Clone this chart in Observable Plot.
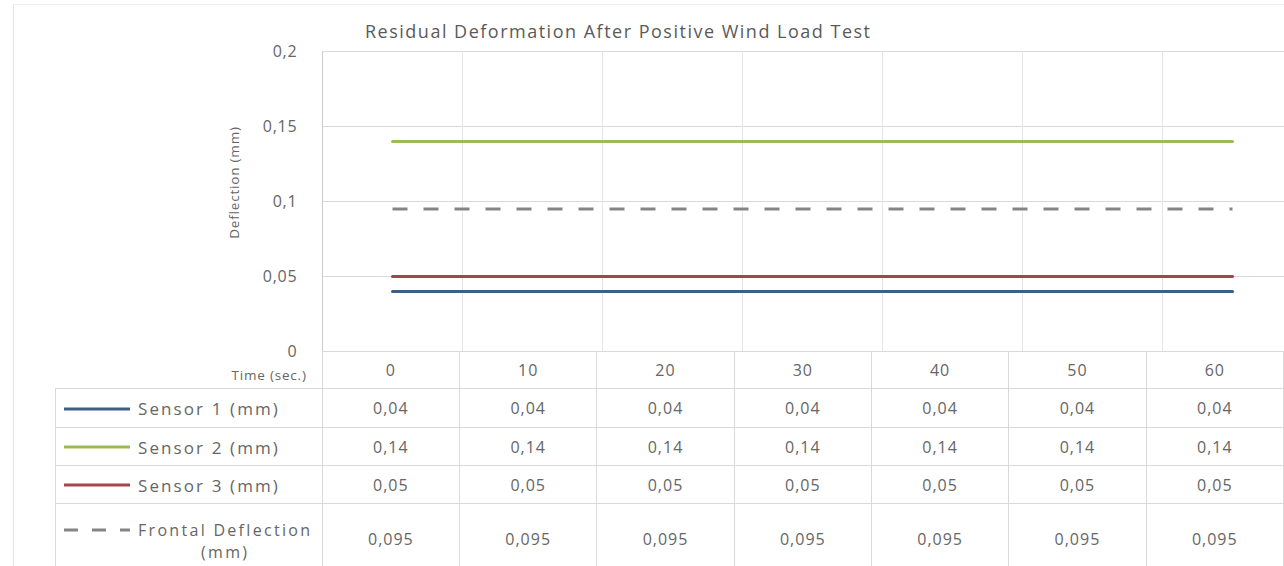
<!DOCTYPE html>
<html><head><meta charset="utf-8">
<script src="https://cdn.jsdelivr.net/npm/d3@7"></script>
<script src="https://cdn.jsdelivr.net/npm/@observablehq/plot@0.6"></script>
<style>
html,body{margin:0;padding:0;background:#fff;}
#wrap{position:relative;width:1284px;height:566px;overflow:hidden;font-family:"Open Sans",sans-serif;color:#666;}
#frameL{position:absolute;left:13px;top:4px;width:0;height:562px;border-left:1px solid #e6e6e6;}
#frameT{position:absolute;left:13px;top:4px;width:1271px;height:0;border-top:1px solid #eeeeee;}
#title{position:absolute;left:365px;top:19px;font-size:18px;letter-spacing:1.5px;white-space:nowrap;color:#5a5a5a;}
#chart{position:absolute;left:0;top:0;width:1302px;}
#chart svg{max-width:none !important;}
#chart text{letter-spacing:0.8px;}
#tbl{position:absolute;left:55px;top:351px;border-collapse:collapse;table-layout:fixed;}
#tbl td{border:1px solid #d9d9d9;text-align:center;vertical-align:middle;font-size:16px;color:#666;padding:0;letter-spacing:1px;white-space:nowrap;}
#tbl td.hdr0{border-top:none;border-left:none;text-align:right;vertical-align:bottom;font-size:13.5px;padding-right:15px;padding-bottom:4px;letter-spacing:0.8px;}
#tbl td.leg{text-align:left;padding-left:8px;font-size:17px;letter-spacing:2.1px;}
.sw{display:inline-block;vertical-align:middle;margin-right:8px;}
.lbl{display:inline-block;vertical-align:middle;text-align:center;}
.lbl.two{font-size:16px;letter-spacing:2.3px;padding-top:4px;}
.lbl.two div{height:22px;line-height:22px;}
</style>
</head><body>
<div id="wrap">
  <div id="frameL"></div><div id="frameT"></div>
  <div id="chart"></div>
  <div id="title"></div>
  <table id="tbl"></table>
</div>
<script>
// ---- data ----
const times = [0, 10, 20, 30, 40, 50, 60];
const sensor1 = [0.04, 0.04, 0.04, 0.04, 0.04, 0.04, 0.04];
const sensor2 = [0.14, 0.14, 0.14, 0.14, 0.14, 0.14, 0.14];
const sensor3 = [0.05, 0.05, 0.05, 0.05, 0.05, 0.05, 0.05];
const frontal = [0.095, 0.095, 0.095, 0.095, 0.095, 0.095, 0.095];
const seriesNames = ["Sensor 1 (mm)", "Sensor 2 (mm)", "Sensor 3 (mm)", "Frontal Deflection (mm)"];
const seriesLabelLines = [["Sensor 1 (mm)"], ["Sensor 2 (mm)"], ["Sensor 3 (mm)"], ["Frontal Deflection", "(mm)"]];
const seriesColors = ["#3d5f86", "#9bbb59", "#a3454b", "#858585"];
const yTicks = [0, 0.05, 0.1, 0.15, 0.2];
const titleText = "Residual Deformation After Positive Wind Load Test";
const yLabel = "Deflection (mm)";
const xLabel = "Time (sec.)";

const comma = d => String(d).replace(".", ",");
const seriesValues = [sensor1, sensor2, sensor3, frontal];
const long = [];
seriesValues.forEach((vals, s) => times.forEach((t, i) => long.push({series: seriesNames[s], time: t, value: vals[i]})));
const solid = long.filter(d => d.series !== seriesNames[3]);
const dashed = long.filter(d => d.series === seriesNames[3]);
const step = times[1] - times[0];
const bounds = times.map(t => t + step / 2);

const chart = Plot.plot({
  width: 1302, height: 366,
  marginLeft: 322, marginRight: 0, marginTop: 51, marginBottom: 15,
  x: {domain: [times[0] - step / 2, times[times.length - 1] + step / 2], axis: null},
  y: {domain: [yTicks[0], yTicks[yTicks.length - 1]], axis: null},
  color: {domain: seriesNames, range: seriesColors},
  style: {fontFamily: "Open Sans", overflow: "visible", background: "transparent", maxWidth: "none"},
  marks: [
    Plot.ruleY(yTicks.slice(1), {stroke: "#d9d9d9"}),
    Plot.ruleX(bounds, {stroke: "#e6e6e6"}),
    Plot.ruleX([times[0] - step / 2], {stroke: "#cccccc"}),
    Plot.axisY({ticks: yTicks, tickSize: 0, tickPadding: 25, tickFormat: comma, fontSize: 16, color: "#666", label: null}),
    Plot.text([yLabel], {frameAnchor: "left", textAnchor: "middle", dx: -88, dy: -19, rotate: -90, fontSize: 13.5, fill: "#666"}),
    Plot.line(solid, {x: "time", y: "value", z: "series", stroke: "series", strokeWidth: 3}),
    Plot.line(dashed, {x: "time", y: "value", stroke: "series", strokeWidth: 3, strokeDasharray: "15,16", strokeLinecap: "butt"})
  ]
});
document.getElementById("chart").appendChild(chart);
document.getElementById("title").textContent = titleText;

// ---- data table ----
const tbl = document.getElementById("tbl");
const colg = document.createElement("colgroup");
[267, ...times.map(() => 140)].forEach(w => { const c = document.createElement("col"); c.style.width = w + "px"; colg.appendChild(c); });
tbl.appendChild(colg);
const rowHeights = [37, 39, 38, 38, 70];
const hr = tbl.insertRow();
hr.style.height = rowHeights[0] + "px";
const h0 = hr.insertCell(); h0.className = "hdr0"; h0.textContent = xLabel;
times.forEach(t => { const c = hr.insertCell(); c.textContent = t; });
seriesValues.forEach((vals, s) => {
  const r = tbl.insertRow();
  r.style.height = rowHeights[s + 1] + "px";
  const c0 = r.insertCell(); c0.className = "leg";
  const svgNS = "http://www.w3.org/2000/svg";
  const sw = document.createElementNS(svgNS, "svg");
  sw.setAttribute("width", 66); sw.setAttribute("height", 6); sw.setAttribute("class", "sw");
  const ln = document.createElementNS(svgNS, "line");
  ln.setAttribute("x1", 0); ln.setAttribute("x2", 66); ln.setAttribute("y1", 3); ln.setAttribute("y2", 3);
  ln.setAttribute("stroke", seriesColors[s]); ln.setAttribute("stroke-width", 3);
  if (s === 3) ln.setAttribute("stroke-dasharray", "14,14");
  sw.appendChild(ln);
  const lbl = document.createElement("span"); lbl.className = "lbl";
  seriesLabelLines[s].forEach(t => { const d = document.createElement("div"); d.textContent = t; lbl.appendChild(d); });
  if (seriesLabelLines[s].length > 1) { lbl.className = "lbl two"; sw.style.marginTop = "-18px"; }
  c0.appendChild(sw); c0.appendChild(lbl);
  vals.forEach(v => { const c = r.insertCell(); c.textContent = comma(v); });
});
</script>
</body></html>
